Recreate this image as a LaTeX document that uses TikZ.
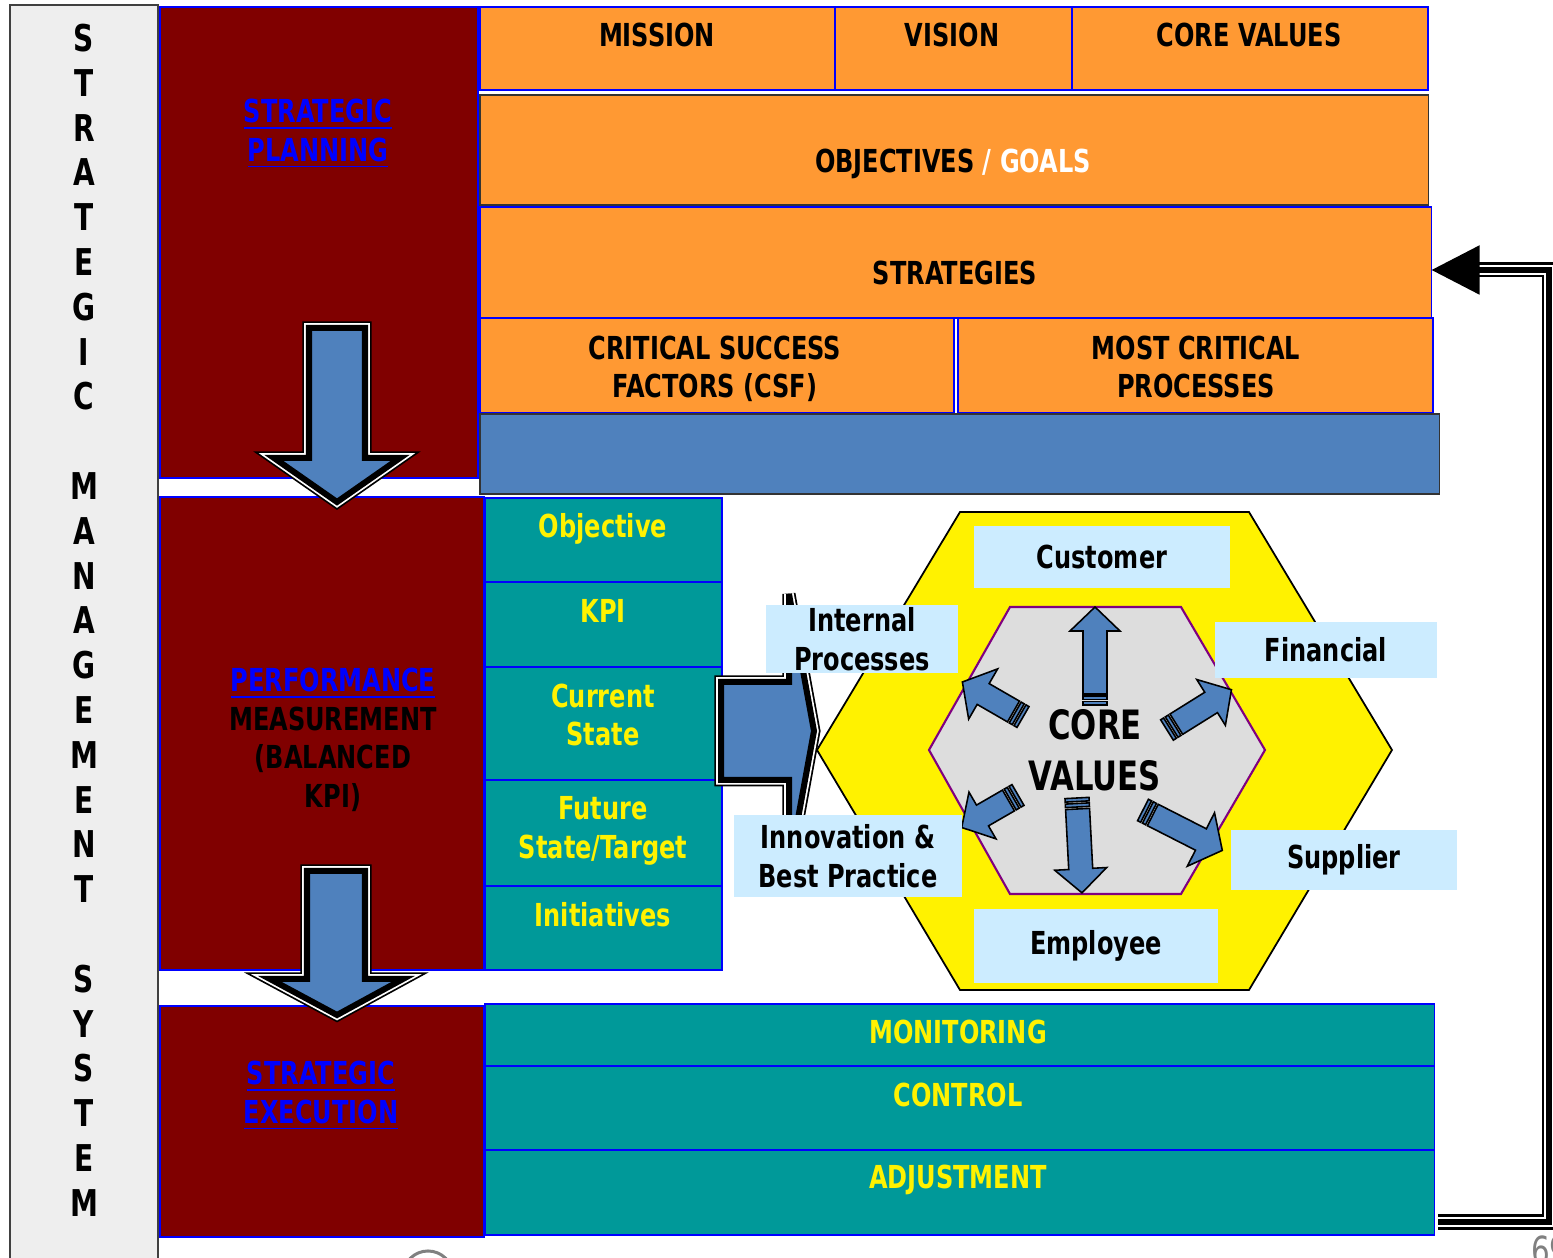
\documentclass[tikz,border=0pt]{standalone}
\usepackage{fontspec}
\setmainfont{DejaVu Sans}[FakeStretch=0.76]
\usetikzlibrary{arrows.meta}

\definecolor{maroonfill}{HTML}{800000}
\definecolor{orangefill}{HTML}{FF9933}
\definecolor{tealfill}{HTML}{009999}
\definecolor{barblue}{HTML}{4F81BD}
\definecolor{labelblue}{HTML}{CCECFF}
\definecolor{hexgrey}{HTML}{DDDDDD}
\definecolor{sidegrey}{HTML}{EEEEEE}
\definecolor{linkblue}{HTML}{0000FF}
\definecolor{hexpurple}{HTML}{800080}

\begin{document}
\begin{tikzpicture}[
		x=0.01cm, y=-0.01cm,
		every node/.style={inner sep=0pt, outer sep=0pt, font=\bfseries\fontsize{9}{11}\selectfont},
		cell/.style={draw=linkblue, line width=0.5pt, anchor=north west},
		ocell/.style={cell, fill=orangefill},
		tcell/.style={cell, fill=tealfill},
		panel/.style={cell, fill=maroonfill},
		ttext/.style={text=yellow, align=center},
		link/.style={text=linkblue, align=center},
		hexlabel/.style={fill=labelblue, align=center},
		bigarrow/.style={fill=barblue, draw=black, line width=0.06cm,
			preaction={draw=black, line width=0.13cm},
			preaction={draw=white, line width=0.095cm}},
		stripe/.style={fill=barblue, draw=black, line width=0.45pt},
		feedback/.style={line join=miter, shorten >=0.44cm}
	]
  \useasboundingbox (0,0) rectangle (1553,1258);
  \fill[white] (0,0) rectangle (1553,1258);

  \node (side) [cell, fill=sidegrey, draw=black!75, minimum width=1.48cm, minimum height=12.8cm] at (10,5) {};
  \foreach \ch [count=\i from 0] in {S,T,R,A,T,E,G,I,C,{},M,A,N,A,G,E,M,E,N,T,{},S,Y,S,T,E,M}
    \node (side_\i) [font=\bfseries\fontsize{10.5}{12}\selectfont] at (84, {38+44.8*\i}) {\ch};

  \node (plan) [panel, minimum width=3.18cm, minimum height=4.71cm] at (160,7) {};
  \node (perf) [panel, minimum width=3.24cm, minimum height=4.73cm] at (160,497) {};
  \node (exec) [panel, minimum width=3.24cm, minimum height=2.31cm] at (160,1006) {};
  \node (plan_label) [link] at (318,134) {\underline{STRATEGIC}\\\underline{PLANNING}};
  \node (perf_label) [align=center] at (333,740) {{\color{linkblue}\underline{PERFORMANCE}}\\MEASUREMENT\\(BALANCED\\KPI)};
  \node (exec_label) [link] at (321,1096) {\underline{STRATEGIC}\\\underline{EXECUTION}};

  \node (mission) [ocell, minimum width=3.55cm, minimum height=0.83cm] at (480,7) {};
  \node (vision) [ocell, minimum width=2.37cm, minimum height=0.83cm] at (835,7) {};
  \node (values) [ocell, minimum width=3.56cm, minimum height=0.83cm] at (1072,7) {};
  \node (goals) [ocell, draw=black!80, minimum width=9.48cm, minimum height=1.10cm] at (480,95) {};
  \node (strat) [ocell, minimum width=9.51cm, minimum height=1.11cm] at (480,207) {};
  \node (csf) [ocell, minimum width=4.74cm, minimum height=0.95cm] at (480,318) {};
  \node (mcp) [ocell, minimum width=4.75cm, minimum height=0.95cm] at (958,318) {};
  \node (csf_bar) [cell, fill=barblue, draw=black!80, minimum width=9.59cm, minimum height=0.80cm] at (480,414) {};
  \node (mission_t) at (657,35) {MISSION};
  \node (vision_t) at (952,35) {VISION};
  \node (values_t) at (1249,35) {CORE VALUES};
  \node (goals_t) at (953,164) {OBJECTIVES {\color{white}/ GOALS}};
  \node (strat_t) at (955,273) {STRATEGIES};
  \node (csf_t) [align=center] at (715,369) {CRITICAL SUCCESS\\FACTORS (CSF)};
  \node (mcp_t) [align=center] at (1196,367) {MOST CRITICAL\\PROCESSES};

  \node (obj) [tcell, minimum width=2.37cm, minimum height=0.84cm] at (485,498) {};
  \node (kpi) [tcell, minimum width=2.37cm, minimum height=0.85cm] at (485,582) {};
  \node (cur) [tcell, minimum width=2.37cm, minimum height=1.13cm] at (485,667) {};
  \node (fut) [tcell, minimum width=2.37cm, minimum height=1.06cm] at (485,780) {};
  \node (ini) [tcell, minimum width=2.37cm, minimum height=0.84cm] at (485,886) {};
  \node (obj_t) [ttext] at (603,529) {Objective};
  \node (kpi_t) [ttext] at (603,611) {KPI};
  \node (cur_t) [ttext] at (603,715) {Current\\State};
  \node (fut_t) [ttext] at (603,831) {Future\\State/Target};
  \node (ini_t) [ttext] at (603,915) {Initiatives};

  \node (mon) [tcell, minimum width=9.49cm, minimum height=0.62cm] at (485,1004) {};
  \node (ctrl) [tcell, minimum width=9.49cm, minimum height=0.84cm] at (485,1066) {};
  \node (adj) [tcell, minimum width=9.49cm, minimum height=0.85cm] at (485,1150) {};
  \node (mon_t) [ttext] at (958,1032) {MONITORING};
  \node (ctrl_t) [ttext] at (958,1095) {CONTROL};
  \node (adj_t) [ttext] at (958,1180) {ADJUSTMENT};

  \draw[bigarrow] (309,328) -- (365,328) -- (365,458) -- (400,458) -- (337,502) -- (274,458) -- (309,458) -- cycle;
  \draw[bigarrow] (307,871) -- (365,871) -- (365,979) -- (403,979) -- (337,1015) -- (270,979) -- (307,979) -- cycle;
  \draw[bigarrow] (721,682) -- (789,682) -- (789,594) -- (814,731) -- (789,868) -- (789,780) -- (721,780) -- cycle;

  \draw[fill=yellow, draw=black, line width=0.5pt] (960,512) -- (1249,512) -- (1392,750) -- (1249,990) -- (960,990) -- (817,750) -- cycle;
  \draw[fill=hexgrey, draw=hexpurple, line width=0.6pt] (1010,607) -- (1181,607) -- (1265,750) -- (1181,894) -- (1010,894) -- (929,750) -- cycle;

  \foreach \px/\py/\ang/\len/\hw in {1095/705/90/98/25, 1023/717/150/70/29, 1167/730/32/76/27, 1018/795/210/65/27, 1077/798/273/95/26, 1143/810/-27/89/30} {
    \begin{scope}[shift={(\px,\py)}, rotate=\ang]
      \draw[stripe] (0,-12) rectangle (3.5,12);
      \draw[stripe] (5.5,-12) rectangle (9,12);
      \draw[stripe] (11,-12) -- ({\len-24},-12) -- ({\len-24},-\hw) -- (\len,0) -- ({\len-24},\hw) -- ({\len-24},12) -- (11,12) -- cycle;
    \end{scope}
  }
  \node (core) [align=center, font=\bfseries\fontsize{11.5}{14.5}\selectfont] at (1095,750) {CORE\\VALUES};

  \node (customer) [hexlabel, minimum width=2.55cm, minimum height=0.61cm] at (1102,557) {Customer};
  \node (internal) [hexlabel, minimum width=1.91cm, minimum height=0.68cm] at (862,639) {Internal\\Processes};
  \node (financial) [hexlabel, minimum width=2.22cm, minimum height=0.55cm] at (1326,650) {Financial};
  \node (innovation) [hexlabel, minimum width=2.27cm, minimum height=0.82cm] at (848,856) {Innovation \&\\Best Practice};
  \node (supplier) [hexlabel, minimum width=2.26cm, minimum height=0.60cm] at (1344,860) {Supplier};
  \node (employee) [hexlabel, minimum width=2.43cm, minimum height=0.73cm] at (1096,946) {Employee};

  \coordinate (fb_start) at (1438,1222);
  \coordinate (fb_top) at (1549,270);
  \draw[feedback, line width=0.15cm] (fb_start) -| (fb_top) -- (fb_top -| strat.east);
  \draw[feedback, line width=0.105cm, white] (fb_start) -| (fb_top) -- (fb_top -| strat.east);
  \draw[line join=miter, line width=0.055cm, -{Triangle[length=0.48cm, width=0.48cm]}] (fb_start) -| (fb_top) -- (fb_top -| strat.east);

  \draw[gray, line width=0.03cm] (428,1276) circle [radius=0.25cm];
  \node (page_no) [anchor=north west, text=gray, font=\fontsize{11}{13}\selectfont] at (1531,1236) {69};
\end{tikzpicture}
\end{document}
